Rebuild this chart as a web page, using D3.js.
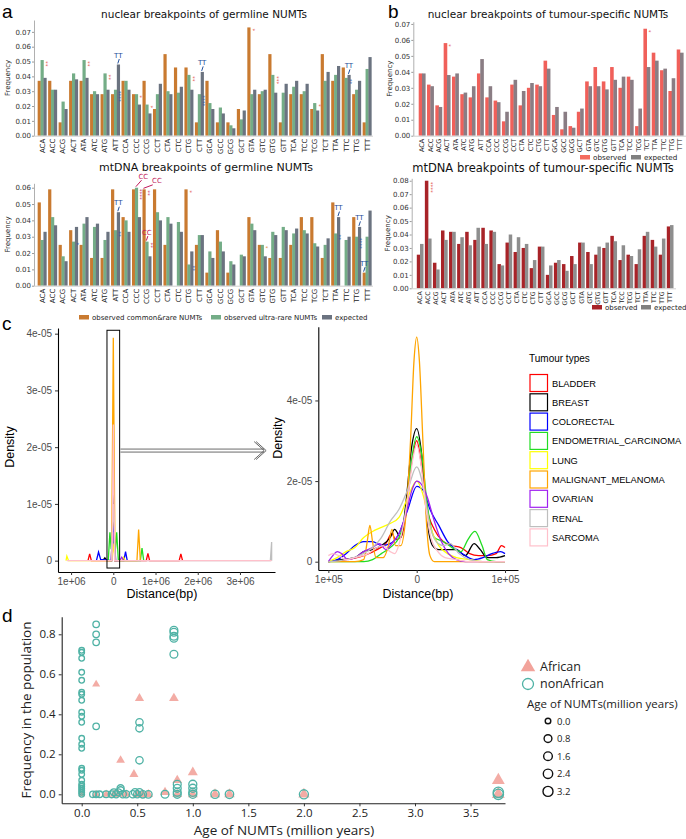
<!DOCTYPE html>
<html>
<head>
<meta charset="utf-8">
<style>
  body { margin: 0; background: #fff; }
  svg { display: block; }
</style>
</head>
<body>
<svg width="686" height="839"></svg>
<script src="https://cdn.jsdelivr.net/npm/d3@7"></script>
<script>

// ---------- data: panel a / b (codon frequencies) ----------
var codons = ["ACA","ACC","ACG","ACT","ATA","ATC","ATG","ATT","CCA","CCC","CCG","CCT","CTA","CTC","CTG","CTT",
              "GCA","GCC","GCG","GCT","GTA","GTC","GTG","GTT","TCA","TCC","TCG","TCT","TTA","TTC","TTG","TTT"];

var nucCommon   = [0.037,0.037,0.009,0.037,0.037,0.028,0.028,0.028,0.037,0.028,0.037,0.018,0.055,0.046,0.046,0.009,
                   0.037,0.009,0.009,0.018,0.073,0.028,0.055,0.009,0.028,0.028,0.018,0.055,0.037,0.046,0.028,0.009];
var nucUltra    = [0.051,0.031,0.023,0.042,0.051,0.030,0.042,0.031,0.037,0.028,0.021,0.028,0.030,0.029,0.041,0.028,
                   0.022,0.019,0.007,0.011,0.028,0.030,0.041,0.029,0.033,0.030,0.022,0.037,0.041,0.039,0.031,0.045];
var nucExpected = [0.039,0.031,0.018,0.038,0.039,0.028,0.031,0.048,0.031,0.021,0.015,0.035,0.028,0.033,0.031,0.043,
                   0.018,0.015,0.005,0.017,0.031,0.031,0.029,0.035,0.037,0.035,0.017,0.043,0.047,0.041,0.037,0.053];

var mtCommon    = [0.051,0.059,0.025,0.034,0.025,0.017,0.017,0.059,0.042,0.059,0.059,0.059,0.025,0.000,0.059,0.025,
                   0.008,0.034,0.008,0.000,0.042,0.025,0.017,0.017,0.025,0.042,0.042,0.017,0.051,0.000,0.042,0.008];
var mtUltra     = [0.028,0.042,0.018,0.027,0.038,0.036,0.028,0.034,0.040,0.060,0.027,0.045,0.042,0.039,0.013,0.031,
                   0.021,0.027,0.015,0.019,0.038,0.025,0.033,0.036,0.032,0.034,0.026,0.025,0.032,0.028,0.030,0.030];
var mtExpected  = [0.033,0.037,0.015,0.036,0.042,0.038,0.033,0.045,0.033,0.042,0.018,0.040,0.038,0.033,0.021,0.031,
                   0.017,0.021,0.013,0.018,0.034,0.018,0.031,0.034,0.035,0.032,0.024,0.029,0.042,0.030,0.036,0.046];

var tumNucObs   = [0.039,0.032,0.019,0.058,0.037,0.026,0.024,0.039,0.024,0.022,0.009,0.032,0.019,0.030,0.032,0.047,
                   0.013,0.004,0.006,0.015,0.034,0.043,0.034,0.043,0.030,0.037,0.006,0.067,0.052,0.041,0.028,0.054];
var tumNucExp   = [0.039,0.031,0.018,0.038,0.039,0.027,0.031,0.048,0.031,0.021,0.015,0.035,0.028,0.033,0.031,0.042,
                   0.018,0.015,0.005,0.017,0.031,0.031,0.029,0.035,0.037,0.035,0.017,0.043,0.047,0.042,0.036,0.052];
var tumMtObs    = [0.025,0.080,0.019,0.043,0.042,0.033,0.042,0.036,0.045,0.043,0.018,0.034,0.027,0.030,0.015,0.031,
                   0.010,0.019,0.018,0.024,0.034,0.027,0.025,0.030,0.039,0.021,0.025,0.018,0.039,0.036,0.025,0.046];
var tumMtExp    = [0.033,0.037,0.014,0.036,0.042,0.038,0.032,0.045,0.033,0.042,0.017,0.040,0.038,0.033,0.021,0.031,
                   0.017,0.021,0.013,0.018,0.034,0.018,0.031,0.034,0.035,0.032,0.024,0.029,0.042,0.031,0.037,0.047];

var ticks7 = [0, 0.01, 0.02, 0.03, 0.04, 0.05, 0.06, 0.07];
var ticks6 = [0, 0.01, 0.02, 0.03, 0.04, 0.05, 0.06];
var ticks8 = [0, 0.01, 0.02, 0.03, 0.04, 0.05, 0.06, 0.07, 0.08];

// significance marks: [codon, series, text, kind, label shift x, label shift y]
var nucGermNotes = [["ACA",1,"**","r"],["ATA",1,"**","r"],["ATG",1,"**","r"],["CCC",1,"*","r"],["CCG",1,"*","r"],
                    ["CTG",1,"**","r"],["GTA",0,"*","r"],["GTG",1,"***","r"],["TCG",1,"*","r"],
                    ["ATT",1,"****","b"],["CTT",1,"****","b"],["TTC",1,"**","b"],
                    ["ATT",2,"TT","bl",0,0],["CTT",2,"TT","bl",0,0],["TTC",2,"TT","bl",0,0]];
var mtGermNotes  = [["ACT",1,"*","b"],["ATT",1,"**","b"],["ATT",2,"TT","bl",0,0],["CCC",1,"****","m"],["CCC",1,"CC","ml",7,-2],
                    ["CCG",0,"**","m"],["CCG",0,"CC","ml",13,1],["CCG",1,"**","m"],["CCG",1,"CC","ml",0,0],["CTG",0,"*","r"],
                    ["CTG",1,"**","b"],["GTC",1,"*","o"],["TTA",1,"**","b"],["TTA",2,"TT","bl",0,0],
                    ["TTG",1,"****","b"],["TTG",2,"TT","bl",0,0],["TTT",0,"TT","bl",0,0]];
var tumNucNotes  = [["ACT",0,"*","r"],["TCT",0,"*","r"]];
var tumMtNotes   = [["ACC",0,"****","r"]];

// ---------- data: panel c (densities, x in Mb / kb, y in 1e-05) ----------
var tumourTypes   = ["BLADDER","BREAST","COLORECTAL","ENDOMETRIAL_CARCINOMA","LUNG","MALIGNANT_MELANOMA","OVARIAN","RENAL","SARCOMA"];
var tumourColours = ["#ff0000","#000000","#0000ff","#22dd22","#ffff00","#ffa500","#a020f0","#bebebe","#ffc0cb"];

var wideDensity = [
  [[-0.6,0],[-0.56,0.12],[-0.52,0],[-0.04,0],[0,1.0],[0.04,0],[0.78,0],[0.82,0.13],[0.86,0],[1.56,0],[1.6,0.12],[1.64,0]],
  [[-0.25,0],[-0.2,0.05],[-0.15,0],[-0.04,0],[0,1.2],[0.04,0],[0.1,0]],
  [[-0.4,0],[-0.35,0.15],[-0.3,0.02],[-0.04,0],[0,0.6],[0.04,0],[0.25,0],[0.29,0.16],[0.33,0]],
  [[-0.12,0],[-0.08,0.5],[-0.05,0.2],[0,0.4],[0.05,0.2],[0.08,0.5],[0.12,0],[0.64,0],[0.68,0.22],[0.72,0]],
  [[-1.12,0],[-1.1,0.08],[-1.06,0],[-0.04,0],[0,0.3],[0.04,0],[0.2,0],[0.24,0.06],[0.28,0]],
  [[-0.04,0],[0,3.93],[0.04,0],[0.56,0],[0.6,0.55],[0.64,0]],
  [[-0.06,0],[0,0.5],[0.06,0],[0.15,0],[0.2,0.06],[0.25,0]],
  [[-0.05,0],[0,1.0],[0.05,0],[3.72,0],[3.75,0.33],[3.75,0]],
  [[-1.1,0],[-0.03,0],[0,2.4],[0.03,0],[3.75,0]]
];

var zoomDensity = [
  [[-100,0],[-80,0.05],[-60,0.15],[-45,0.3],[-35,0.45],[-28,0.7],[-24,0.55],[-18,0.6],[-12,1.2],[-6,2.4],[0,3.0],[6,2.3],[12,1.3],[20,0.8],[30,0.5],[40,0.4],[50,0.35],[60,0.2],[70,0.15],[80,0.15],[90,0.2],[96,0.4],[100,0.35]],
  [[-100,0],[-85,0.05],[-70,0.1],[-60,0.25],[-50,0.3],[-40,0.4],[-30,0.6],[-25,0.8],[-18,0.6],[-12,1.5],[-6,2.8],[0,3.3],[6,2.6],[12,1.0],[18,0.4],[25,0.3],[35,0.3],[45,0.3],[55,0.15],[65,0.45],[72,0.3],[80,0.1],[90,0.1],[100,0.15]],
  [[-100,0],[-90,0.05],[-80,0.2],[-70,0.4],[-60,0.5],[-50,0.5],[-40,0.4],[-30,0.45],[-20,0.7],[-10,1.3],[0,1.87],[8,1.75],[15,1.3],[25,0.9],[35,0.5],[45,0.3],[55,0.15],[65,0.05],[75,0.1],[85,0.2],[95,0.25],[100,0.2]],
  [[-100,0],[-60,0],[-50,0.05],[-40,0.2],[-30,0.35],[-20,0.6],[-12,1.3],[-6,2.5],[0,3.1],[6,2.6],[12,1.4],[20,0.6],[30,0.5],[40,0.35],[50,0.25],[58,0.55],[66,0.75],[74,0.4],[80,0.05],[90,0],[100,0]],
  [[-100,0],[-90,0.1],[-80,0.25],[-70,0.35],[-60,0.6],[-50,0.75],[-40,0.85],[-30,0.95],[-20,1.1],[-10,1.6],[0,2.0],[8,1.6],[15,0.9],[25,0.4],[35,0.2],[45,0.1],[60,0.05],[75,0],[100,0]],
  [[-100,0],[-70,0],[-60,0.05],[-56,0.5],[-53,0.9],[-50,0.5],[-46,0.1],[-38,0.1],[-32,0.4],[-28,0.8],[-24,0.4],[-18,0.4],[-12,1.2],[-7,3.0],[-3,5.0],[0,5.57],[3,5.0],[7,3.0],[11,1.0],[15,0.15],[20,0],[100,0]],
  [[-100,0],[-95,0.15],[-90,0.25],[-85,0.2],[-78,0.05],[-70,0.1],[-60,0.25],[-50,0.35],[-42,0.45],[-35,0.3],[-28,0.45],[-20,0.7],[-12,1.2],[-5,1.8],[0,2.0],[6,1.9],[12,1.6],[20,1.0],[28,0.5],[36,0.2],[45,0.05],[55,0],[100,0]],
  [[-100,0],[-80,0.05],[-65,0.15],[-50,0.35],[-40,0.6],[-30,1.0],[-20,1.3],[-10,1.8],[0,2.35],[8,1.8],[15,0.9],[22,0.5],[30,0.4],[38,0.45],[48,0.2],[60,0.05],[75,0],[100,0]],
  [[-100,0.15],[-95,0.2],[-88,0.15],[-80,0.05],[-70,0.1],[-55,0.2],[-45,0.35],[-38,0.4],[-30,0.25],[-25,0.2],[-18,0.6],[-10,1.6],[-4,2.6],[0,2.9],[5,2.4],[10,1.4],[16,0.6],[24,0.25],[32,0.1],[45,0.05],[60,0],[100,0]]
];

var wideXTicks = [-1, 0, 1, 2, 3];
var wideXLabels = ["1e+06", "0", "1e+06", "2e+06", "3e+06"];
var wideYTicks = [0, 1, 2, 3, 4];
var wideYLabels = ["0", "1e-05", "2e-05", "3e-05", "4e-05"];
var zoomXTicks = [-100, 0, 100];
var zoomXLabels = ["1e+05", "0", "1e+05"];
var zoomYTicks = [0, 2, 4];
var zoomYLabels = ["0", "2e-05", "4e-05"];

// ---------- data: panel d ----------
var nonAfrAge  = [0,0,0,0,0,0,0,0,0,0,0,0,0,0,0,0,0,0,0,0,0,0,0,0,
                  0.13,0.13,0.13,0.13,0.13,0.10,0.16,0.22,0.27,0.29,0.31,0.33,0.35,0.35,0.37,0.40,0.46,0.48,0.50,
                  0.52,0.52,0.52,0.52,0.55,0.60,0.75,0.83,0.83,0.83,0.83,0.83,0.86,0.86,0.86,0.86,
                  1.0,1.0,1.0,1.0,1.2,1.33,2.0,3.75,3.75];
var nonAfrFreq = [0.72,0.71,0.68,0.61,0.57,0.51,0.50,0.47,0.41,0.39,0.36,0.28,0.25,0.23,0.13,0.12,0.10,0.07,0.05,0.04,0.03,0.02,0.01,0.0,
                  0.85,0.80,0.76,0.34,0.0,0.0,0.0,0.0,0.0,0.01,0.0,0.01,0.03,0.02,0.0,0.0,0.0,0.01,0.0,
                  0.36,0.33,0.17,0.01,0.0,0.0,0.0,0.82,0.81,0.79,0.78,0.70,0.05,0.03,0.01,0.0,
                  0.05,0.03,0.01,0.0,0.0,0.0,0.0,0.01,0.0];
var afrAge  = [0.13,0.35,0.47,0.52,0.83,0.86,1.0,3.75,0.75,
               0.0,0.13,0.22,0.29,0.33,0.40,0.50,0.55,0.60,0.86,1.0,1.2,1.33,2.0,3.75];
var afrFreq = [0.55,0.17,0.10,0.48,0.48,0.07,0.11,0.07,0.01,
               0,0,0,0,0,0,0,0,0,0,0,0,0,0,0];
var dXTicks = [0, 0.5, 1.0, 1.5, 2.0, 2.5, 3.0, 3.5];
var dYTicks = [0, 0.2, 0.4, 0.6, 0.8];
var ageLegend = [0.0, 0.8, 1.6, 2.4, 3.2];

// ---------- drawing ----------
var svg = d3.select("svg");
var MPL = "DejaVu Sans", GG = "Liberation Sans", OS = "Open Sans";

var noteColour = { r: "#e0443a", b: "#1f4e9a", m: "#c2185b", o: "#d9822b", bl: "#1f4e9a", ml: "#c2185b" };

function barPanel(o) {
  var g = svg.append("g");
  var x = d3.scalePoint().domain(codons).range(o.xr);
  var bw = o.gw / o.series.length;
  var y = d3.scaleLinear().domain([0, o.ymax]).range([o.y0, o.y1]);

  o.series.forEach(function(vals, s) {
    g.append("g").selectAll("rect")
      .data(vals)
      .enter().append("rect")
        .attr("x", function(d, i) { return x(codons[i]) - o.gw / 2 + s * bw; })
        .attr("y", function(d) { return y(d); })
        .attr("width", bw + 0.3)
        .attr("height", function(d) { return y(0) - y(d); })
        .attr("fill", o.colors[s]);
  });

  var ax = g.append("g")
      .attr("transform", "translate(" + o.axisX + ",0)")
      .call(d3.axisLeft(y).tickValues(o.ticks).tickFormat(d3.format(".2f")).tickSize(2).tickSizeOuter(0));
  ax.select(".domain").attr("stroke", "#b0b0b0");
  ax.selectAll(".tick line").attr("stroke", "#999");
  ax.selectAll("text").attr("font-family", MPL).attr("font-size", 7).attr("fill", "#333").attr("x", -3);

  g.append("line")
      .attr("x1", o.axisX).attr("x2", o.xr[1] + 6)
      .attr("y1", o.y0 + 0.5).attr("y2", o.y0 + 0.5)
      .attr("stroke", "#d0d0d0");

  g.selectAll(".cod")
    .data(codons)
    .enter().append("text")
      .attr("transform", function(d) { return "translate(" + (x(d) + o.codSize / 2.8) + "," + (o.y0 + 3) + ") rotate(-90)"; })
      .attr("text-anchor", "end")
      .attr("font-family", MPL)
      .attr("font-size", o.codSize)
      .attr("fill", "#222")
      .text(function(d) { return d; });

  g.append("text")
      .attr("x", o.titleX).attr("y", o.titleY)
      .attr("text-anchor", "middle")
      .attr("font-family", MPL).attr("font-size", o.titleSize)
      .attr("fill", "#111")
      .text(o.title);

  g.append("text")
      .attr("transform", "translate(" + o.ylabX + "," + ((o.y0 + o.y1) / 2) + ") rotate(-90)")
      .attr("text-anchor", "middle")
      .attr("font-family", MPL).attr("font-size", 7)
      .attr("fill", "#222")
      .text("Frequency");

  // significance marks
  (o.notes || []).forEach(function(n) {
    var i = codons.indexOf(n[0]);
    var bx = x(n[0]) - o.gw / 2 + n[1] * bw;
    var top = y(o.series[n[1]][i]);
    var col = noteColour[n[3]];
    if (n[3] === "bl" || n[3] === "ml") {
      var lx = bx + bw / 2 + n[4], ly = top - 7 + n[5];
      g.append("text")
          .attr("x", lx).attr("y", ly)
          .attr("text-anchor", "middle")
          .attr("font-family", MPL).attr("font-size", 7)
          .attr("fill", col)
          .text(n[2]);
      g.append("line")
          .attr("x1", lx + 1 - n[4] * 0.4).attr("y1", ly + 1.5)
          .attr("x2", bx + bw / 2 - 0.5).attr("y2", top - 1)
          .attr("stroke", col).attr("stroke-width", 1);
    } else {
      g.append("text")
          .attr("transform", "translate(" + (bx + bw + 0.5) + "," + (top + 1) + ") rotate(90)")
          .attr("font-family", MPL).attr("font-size", 5.5)
          .attr("fill", col)
          .text(n[2]);
    }
  });
  return g;
}

function swatchLegend(items, y, fs) {
  items.forEach(function(it) {
    svg.append("rect").attr("x", it.x).attr("y", y - 5).attr("width", 10).attr("height", 4.5).attr("fill", it.c);
    svg.append("text").attr("x", it.x + 13).attr("y", y)
      .attr("font-family", MPL).attr("font-size", fs).attr("fill", "#222").text(it.t);
  });
}

var aCols = ["#c97a30", "#74ad87", "#6b7380"];

barPanel({ series: [nucCommon, nucUltra, nucExpected], colors: aCols, xr: [42, 367], gw: 8.7, axisX: 34,
           y0: 135.7, y1: 20, ymax: 0.078, ticks: ticks7, notes: nucGermNotes, codSize: 7,
           title: "nuclear breakpoints of germline NUMTs", titleX: 204, titleY: 18, titleSize: 10.5, ylabX: 10 });
barPanel({ series: [mtCommon, mtUltra, mtExpected], colors: aCols, xr: [42, 367], gw: 8.7, axisX: 34,
           y0: 285.7, y1: 183.3, ymax: 0.0627, ticks: ticks6, notes: mtGermNotes, codSize: 7,
           title: "mtDNA breakpoints of germline NUMTs", titleX: 206, titleY: 171, titleSize: 11, ylabX: 10 });
barPanel({ series: [tumNucObs, tumNucExp], colors: ["#f0605a", "#8a7d84"], xr: [422, 680], gw: 6.6, axisX: 413.3,
           y0: 135.7, y1: 21.7, ymax: 0.0714, ticks: ticks7, notes: tumNucNotes, codSize: 6.5,
           title: "nuclear breakpoints of tumour-specific NUMTs", titleX: 548, titleY: 18, titleSize: 10.5, ylabX: 392 });
barPanel({ series: [tumMtObs, tumMtExp], colors: ["#a82328", "#8e8e8e"], xr: [420, 670], gw: 6.4, axisX: 411.7,
           y0: 288.3, y1: 178.3, ymax: 0.0818, ticks: ticks8, notes: tumMtNotes, codSize: 6.3,
           title: "mtDNA breakpoints of tumour-specific NUMTs", titleX: 543, titleY: 172, titleSize: 11.5, ylabX: 390 });

swatchLegend([{ x: 79, c: aCols[0], t: "observed common&rare NUMTs" },
              { x: 211, c: aCols[1], t: "observed ultra-rare NUMTs" },
              { x: 322, c: aCols[2], t: "expected" }], 320, 7);
swatchLegend([{ x: 580, c: "#f46c5e", t: "observed" }, { x: 631, c: "#808080", t: "expected" }], 160, 7.2);
swatchLegend([{ x: 592, c: "#a82328", t: "observed" }, { x: 641, c: "#808080", t: "expected" }], 310, 7);

// panel letters
[["a", 2, 18], ["b", 388, 18], ["c", 2, 330], ["d", 2, 622]].forEach(function(p) {
  svg.append("text").attr("x", p[1]).attr("y", p[2])
    .attr("font-family", GG).attr("font-size", 19).attr("fill", "#000").text(p[0]);
});

// ---------- panel c ----------
function ggAxes(g, x, y, xv, xl, yv, yl, x0, y0) {
  var ax = g.append("g").attr("transform", "translate(0," + y0 + ")")
      .call(d3.axisBottom(x).tickValues(xv).tickFormat(function(d, i) { return xl[i]; }).tickSize(3).tickSizeOuter(0));
  var ay = g.append("g").attr("transform", "translate(" + x0 + ",0)")
      .call(d3.axisLeft(y).tickValues(yv).tickFormat(function(d, i) { return yl[i]; }).tickSize(3).tickSizeOuter(0));
  [ax, ay].forEach(function(a) {
    a.select(".domain").attr("stroke", "#000").attr("stroke-width", 1.1);
    a.selectAll(".tick line").attr("stroke", "#333");
    a.selectAll("text").attr("font-family", GG).attr("font-size", 10).attr("fill", "#4d4d4d");
  });
}

var cg = svg.append("g");
var xL = d3.scaleLinear().domain([-1.31, 3.83]).range([58, 275]);
var yL = d3.scaleLinear().domain([-0.2, 4.1]).range([572, 328]);
ggAxes(cg, xL, yL, wideXTicks, wideXLabels, wideYTicks, wideYLabels, 58, 572);

var lineL = d3.line().x(function(d) { return xL(d[0]); }).y(function(d) { return yL(d[1]); });
cg.selectAll(".wide")
  .data(wideDensity)
  .enter().append("path")
    .attr("d", lineL)
    .attr("fill", "none")
    .attr("stroke", function(d, i) { return tumourColours[i]; })
    .attr("stroke-width", 1.3);

cg.append("rect")
    .attr("x", xL(-0.15)).attr("y", yL(4.06))
    .attr("width", xL(0.15) - xL(-0.15)).attr("height", yL(-0.13) - yL(4.06))
    .attr("fill", "none").attr("stroke", "#000").attr("stroke-width", 1);

// double-line arrow pointing to the zoomed panel
var ay0 = yL(1.94), ax1 = xL(0.17), ax2 = xL(3.62);
[-1.5, 1.5].forEach(function(dy) {
  cg.append("line").attr("x1", ax1).attr("x2", ax2 - 2).attr("y1", ay0 + dy).attr("y2", ay0 + dy)
    .attr("stroke", "#444").attr("stroke-width", 0.8);
});
[0, 2].forEach(function(off) {
  cg.append("path")
    .attr("d", "M" + (ax2 - 10 - off) + "," + (ay0 - 9) + "L" + (ax2 - off) + "," + ay0 + "L" + (ax2 - 10 - off) + "," + (ay0 + 9))
    .attr("fill", "none").attr("stroke", "#444").attr("stroke-width", 0.8);
});

var xR = d3.scaleLinear().domain([-111.4, 114.7]).range([318.3, 518]);
var yR = d3.scaleLinear().domain([-0.206, 5.83]).range([570, 326.7]);
ggAxes(cg, xR, yR, zoomXTicks, zoomXLabels, zoomYTicks, zoomYLabels, 318.3, 570);

var lineR = d3.line().curve(d3.curveMonotoneX).x(function(d) { return xR(d[0]); }).y(function(d) { return yR(d[1]); });
cg.selectAll(".zoom")
  .data(zoomDensity)
  .enter().append("path")
    .attr("d", lineR)
    .attr("fill", "none")
    .attr("stroke", function(d, i) { return tumourColours[i]; })
    .attr("stroke-width", 1.3);

[[14, 447], [282, 438]].forEach(function(t) {
  cg.append("text").attr("transform", "translate(" + t[0] + "," + t[1] + ") rotate(-90)")
    .attr("text-anchor", "middle").attr("font-family", GG).attr("font-size", 12.5).attr("fill", "#000").text("Density");
});
[[162, 598], [418, 598]].forEach(function(t) {
  cg.append("text").attr("x", t[0]).attr("y", t[1])
    .attr("text-anchor", "middle").attr("font-family", GG).attr("font-size", 12.5).attr("fill", "#000").text("Distance(bp)");
});

// legend c
cg.append("text").attr("x", 529).attr("y", 362)
  .attr("font-family", GG).attr("font-size", 10).attr("fill", "#000").text("Tumour types");
tumourTypes.forEach(function(t, i) {
  var yy = 374.5 + i * 19.3;
  cg.append("rect").attr("x", 530).attr("y", yy).attr("width", 17.5).attr("height", 17)
    .attr("fill", "#fff").attr("stroke", tumourColours[i]).attr("stroke-width", 1.2);
  cg.append("text").attr("x", 552).attr("y", yy + 12)
    .attr("font-family", GG).attr("font-size", 9.3).attr("fill", "#000").text(t);
});

// ---------- panel d ----------
var dg = svg.append("g");
var xD = d3.scaleLinear().domain([-0.18, 3.81]).range([61.7, 505]);
var yD = d3.scaleLinear().domain([-0.045, 0.888]).range([803.3, 616.7]);
var rD = d3.scaleSqrt().domain([0, 3.2]).range([2.8, 5.0]);

var dax = dg.append("g").attr("transform", "translate(0,803.3)")
    .call(d3.axisBottom(xD).tickValues(dXTicks).tickFormat(d3.format(".1f")).tickSize(3).tickSizeOuter(0));
var day = dg.append("g").attr("transform", "translate(61.7,0)")
    .call(d3.axisLeft(yD).tickValues(dYTicks).tickFormat(d3.format(".1f")).tickSize(3).tickSizeOuter(0));
[dax, day].forEach(function(a) {
  a.select(".domain").attr("stroke", "#222").attr("stroke-width", 1.1);
  a.selectAll(".tick line").attr("stroke", "#333");
  a.selectAll("text").attr("font-family", OS).attr("font-size", 11.5).attr("fill", "#222");
});

var tri = d3.symbol().type(d3.symbolTriangle);
dg.selectAll(".afr")
  .data(afrAge)
  .enter().append("path")
    .attr("transform", function(d, i) { return "translate(" + xD(d) + "," + yD(afrFreq[i]) + ")"; })
    .attr("d", function(d) { return tri.size(Math.PI * rD(d) * rD(d) * 0.85)(); })
    .attr("fill", "#f2a39b").attr("fill-opacity", 0.9);

dg.selectAll(".nonafr")
  .data(nonAfrAge)
  .enter().append("circle")
    .attr("cx", function(d) { return xD(d); })
    .attr("cy", function(d, i) { return yD(nonAfrFreq[i]); })
    .attr("r", function(d) { return rD(d); })
    .attr("fill", "none").attr("stroke", "#4fb2a5").attr("stroke-width", 1.3);

dg.append("text").attr("transform", "translate(31,710) rotate(-90)")
  .attr("text-anchor", "middle").attr("font-family", OS).attr("font-size", 13.5).attr("fill", "#222")
  .text("Frequency in the population");
dg.append("text").attr("x", 284).attr("y", 835)
  .attr("text-anchor", "middle").attr("font-family", OS).attr("font-size", 13.5).attr("fill", "#222")
  .text("Age of NUMTs (million years)");

// legend d
dg.append("path").attr("transform", "translate(528,667)").attr("d", d3.symbol().type(d3.symbolTriangle).size(90)())
  .attr("fill", "#f2a39b");
dg.append("circle").attr("cx", 528).attr("cy", 684).attr("r", 5.5)
  .attr("fill", "none").attr("stroke", "#4fb2a5").attr("stroke-width", 1.3);
dg.append("text").attr("x", 540).attr("y", 671).attr("font-family", OS).attr("font-size", 12.5).attr("fill", "#222").text("African");
dg.append("text").attr("x", 540).attr("y", 688).attr("font-family", OS).attr("font-size", 12.5).attr("fill", "#222").text("nonAfrican");
dg.append("text").attr("x", 527).attr("y", 708).attr("font-family", OS).attr("font-size", 11.5).attr("fill", "#222").text("Age of NUMTs(million years)");
ageLegend.forEach(function(a, i) {
  var yy = 721 + i * 17.6;
  dg.append("circle").attr("cx", 548).attr("cy", yy).attr("r", rD(a))
    .attr("fill", "none").attr("stroke", "#111").attr("stroke-width", 1.4);
  dg.append("text").attr("x", 557).attr("y", yy + 3.5).attr("font-family", OS).attr("font-size", 9.5).attr("fill", "#222")
    .text(d3.format(".1f")(a));
});

</script>
</body>
</html>
